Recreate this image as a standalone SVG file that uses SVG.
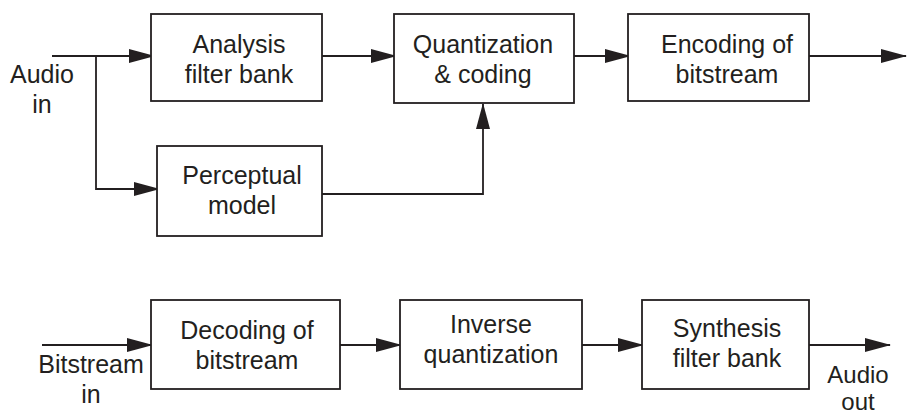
<svg xmlns="http://www.w3.org/2000/svg" width="907" height="416" viewBox="0 0 907 416">
  <style>
    .box { fill: #ffffff; stroke: #231f20; stroke-width: 1.8; }
    .wire { fill: none; stroke: #231f20; stroke-width: 1.8; }
    text { font-family: "Liberation Sans", Arial, sans-serif; font-size: 25px; fill: #231f20; text-anchor: middle; }
    .small { font-size: 24px; }
  </style>
  <defs>
    <marker id="arrow" markerUnits="userSpaceOnUse" markerWidth="27" markerHeight="15" refX="25" refY="7" orient="auto" overflow="visible">
      <path d="M0,0 L26,7 L0,14 Z" fill="#231f20"/>
    </marker>
  </defs>
  <rect width="907" height="416" fill="#ffffff"/>

  <!-- encoder connectors -->
  <g id="connectors">
    <path class="wire" d="M52,56 H154" marker-end="url(#arrow)"/>
    <path class="wire" d="M96,56 V189 H159" marker-end="url(#arrow)"/>
    <path class="wire" d="M322,56 H396" marker-end="url(#arrow)"/>
    <path class="wire" d="M322,194 H483 V104" marker-end="url(#arrow)"/>
    <path class="wire" d="M574,56 H630" marker-end="url(#arrow)"/>
    <path class="wire" d="M809,56 H906" marker-end="url(#arrow)"/>
    <!-- decoder connectors -->
    <path class="wire" d="M42,345 H152" marker-end="url(#arrow)"/>
    <path class="wire" d="M340,345 H401" marker-end="url(#arrow)"/>
    <path class="wire" d="M582,345 H643" marker-end="url(#arrow)"/>
    <path class="wire" d="M809,345 H890" marker-end="url(#arrow)"/>
  </g>

  <!-- encoder -->
  <g id="audio-in">
    <text x="42" y="83">Audio</text>
    <text x="42" y="113">in</text>
  </g>
  <g id="analysis">
    <rect class="box" x="151" y="14" width="171" height="87"/>
    <text x="239" y="53">Analysis</text>
    <text x="239" y="83">filter bank</text>
  </g>
  <g id="perceptual">
    <rect class="box" x="157" y="146" width="165" height="90"/>
    <text x="242" y="184">Perceptual</text>
    <text x="242" y="214">model</text>
  </g>
  <g id="quantization">
    <rect class="box" x="394" y="14" width="180" height="89"/>
    <text x="483" y="53">Quantization</text>
    <text x="483" y="83">&amp; coding</text>
  </g>
  <g id="encoding">
    <rect class="box" x="628" y="14" width="181" height="87"/>
    <text x="727" y="53">Encoding of</text>
    <text x="727" y="83">bitstream</text>
  </g>

  <!-- decoder -->
  <g id="bitstream-in">
    <text x="91" y="373">Bitstream</text>
    <text x="91" y="403">in</text>
  </g>
  <g id="decoding">
    <rect class="box" x="151" y="300" width="189" height="89"/>
    <text x="247" y="339">Decoding of</text>
    <text x="247" y="369">bitstream</text>
  </g>
  <g id="inverse">
    <rect class="box" x="400" y="300" width="182" height="89"/>
    <text x="491" y="333">Inverse</text>
    <text x="491" y="363">quantization</text>
  </g>
  <g id="synthesis">
    <rect class="box" x="642" y="300" width="167" height="89"/>
    <text x="727" y="337">Synthesis</text>
    <text x="727" y="367">filter bank</text>
  </g>
  <g id="audio-out">
    <text class="small" x="858" y="383">Audio</text>
    <text class="small" x="858" y="410">out</text>
  </g>
</svg>
